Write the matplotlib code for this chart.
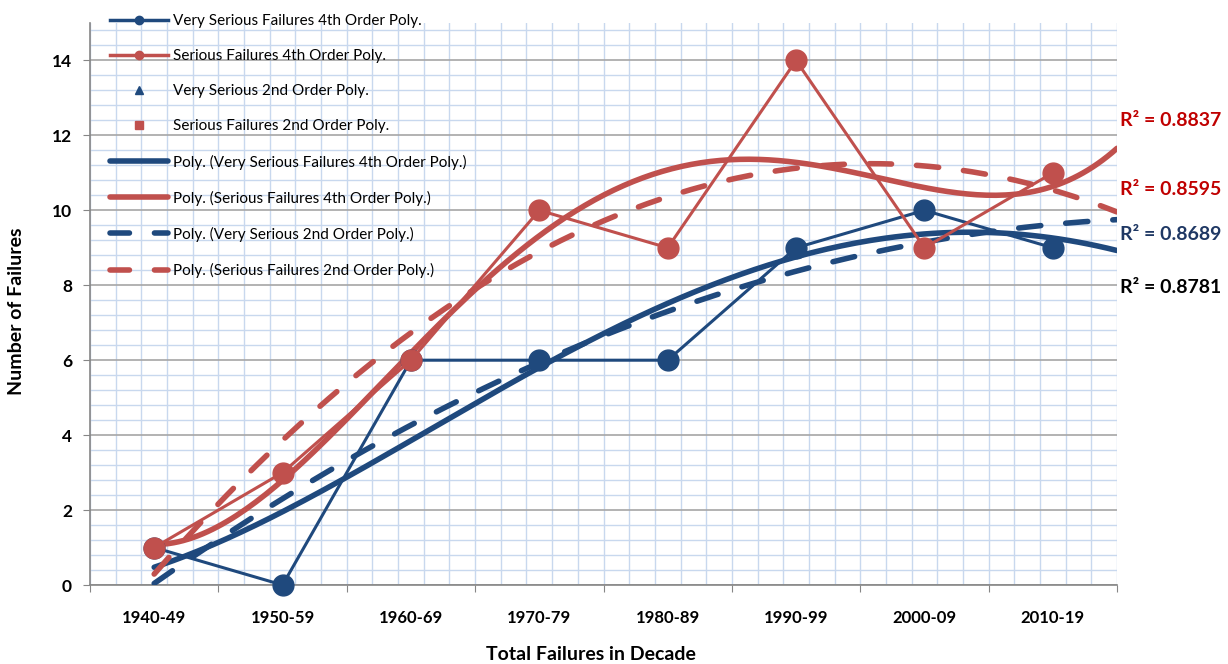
import numpy as np
import matplotlib.pyplot as plt
from matplotlib.lines import Line2D
from matplotlib.ticker import MultipleLocator, FixedLocator

OUTPUT_FIG = "out.png"

DECADES = ["1940-49", "1950-59", "1960-69", "1970-79",
           "1980-89", "1990-99", "2000-09", "2010-19"]
VERY_SERIOUS = [1, 0, 6, 6, 6, 9, 10, 9]
SERIOUS = [1, 3, 6, 10, 9, 14, 9, 11]
R2_LABELS = ["R² = 0.8837", "R² = 0.8595", "R² = 0.8689", "R² = 0.8781"]
R2_COLORS = ["#C00000", "#C00000", "#1F3864", "#000000"]
R2_YPOS = [12.4, 10.55, 9.35, 7.95]

BLUE = "#1F497D"
RED = "#C0504D"
GRID_BLUE = "#C8D8EE"
FONT = ["Lato", "DejaVu Sans"]


def trend(x, y, order, forward=0.5):
    coef = np.polyfit(x, y, order)
    xs = np.linspace(x[0], x[-1] + forward, 200)
    return xs, np.polyval(coef, xs)


def main():
    plt.rcParams["font.family"] = FONT
    x = np.arange(1, len(DECADES) + 1)

    fig = plt.figure(figsize=(12.28, 6.64), dpi=100)
    ax = fig.add_axes([90 / 1228, 79 / 664, 1027 / 1228, 562 / 664])

    ax.set_xlim(0.5, len(DECADES) + 0.5)
    ax.set_ylim(0, 15)

    # grids: light blue minor, grey major horizontal
    ax.xaxis.set_major_locator(FixedLocator(np.arange(0.5, len(DECADES) + 0.6, 1)))
    ax.xaxis.set_minor_locator(FixedLocator(np.arange(0.5, len(DECADES) + 0.55, 0.2)))
    ax.yaxis.set_major_locator(FixedLocator(np.arange(0, 15, 2)))
    ax.yaxis.set_minor_locator(MultipleLocator(0.4))
    ax.grid(which="minor", axis="both", color=GRID_BLUE, linewidth=1.0)
    ax.grid(which="major", axis="y", color="#A6A6A6", linewidth=1.2)
    ax.grid(which="major", axis="x", color=GRID_BLUE, linewidth=1.0)
    ax.set_axisbelow(True)

    ax.set_xticklabels([])
    for xi, lab in zip(x, DECADES):
        ax.text(xi, -0.68, lab, ha="center", va="top", fontsize=12,
                fontweight="bold", transform=ax.transData)
    ax.tick_params(axis="x", which="major", length=5, color="#868686", direction="out")
    ax.tick_params(axis="x", which="minor", length=0)
    ax.tick_params(axis="y", which="major", length=5, color="#868686",
                   labelsize=12.5, pad=8)
    ax.tick_params(axis="y", which="minor", length=0)
    for t in ax.get_yticklabels():
        t.set_fontweight("bold")

    for side in ["top", "right"]:
        ax.spines[side].set_visible(False)
    for side in ["left", "bottom"]:
        ax.spines[side].set_color("#868686")
        ax.spines[side].set_linewidth(1.2)

    # trendlines
    xs, ys = trend(x, VERY_SERIOUS, 4)
    ax.plot(xs, ys, color=BLUE, lw=4, solid_capstyle="round", zorder=3)
    xs, ys = trend(x, SERIOUS, 4)
    ax.plot(xs, ys, color=RED, lw=4, solid_capstyle="round", zorder=3)
    xs, ys = trend(x, VERY_SERIOUS, 2)
    ax.plot(xs, ys, color=BLUE, lw=4, ls=(0, (4, 4.5)), dash_capstyle="round", zorder=3)
    xs, ys = trend(x, SERIOUS, 2)
    ax.plot(xs, ys, color=RED, lw=4, ls=(0, (4, 4.5)), dash_capstyle="round", zorder=3)

    # data series
    ax.plot(x, VERY_SERIOUS, ls="none", marker="^", ms=7, color=BLUE, zorder=2)
    ax.plot(x, SERIOUS, ls="none", marker="s", ms=7, color=RED, zorder=2)
    ax.plot(x, VERY_SERIOUS, color=BLUE, lw=2.2, marker="o", ms=15, zorder=4, clip_on=False)
    ax.plot(x, SERIOUS, color=RED, lw=2.2, marker="o", ms=15, zorder=5, clip_on=False)

    fig.text(591 / 1228, 1 - 655 / 664, "Total Failures in Decade", ha="center",
             va="center", fontsize=14, fontweight="bold")
    fig.text(17 / 1228, 1 - 311 / 664, "Number of Failures", ha="center",
             va="center", rotation=90, fontsize=14, fontweight="bold")

    for lab, col, yv in zip(R2_LABELS, R2_COLORS, R2_YPOS):
        ax.text(1221 / 1228, ax.transData.transform((0, yv))[1] / 664, lab,
                transform=fig.transFigure, ha="right", va="center",
                fontsize=14, fontweight="bold", color=col)

    handles = [
        Line2D([], [], color=BLUE, lw=2.5, marker="o", ms=6),
        Line2D([], [], color=RED, lw=2.5, marker="o", ms=6),
        Line2D([], [], ls="none", color=BLUE, marker="^", ms=6),
        Line2D([], [], ls="none", color=RED, marker="s", ms=6),
        Line2D([], [], color=BLUE, lw=4, solid_capstyle="round"),
        Line2D([], [], color=RED, lw=4, solid_capstyle="round"),
        Line2D([], [], color=BLUE, lw=4, ls=(0, (3.5, 4.5)), dash_capstyle="round"),
        Line2D([], [], color=RED, lw=4, ls=(0, (3.5, 4.5)), dash_capstyle="round"),
    ]
    labels = [
        "Very Serious Failures 4th Order Poly.",
        "Serious Failures 4th Order Poly.",
        "Very Serious 2nd Order Poly.",
        "Serious Failures 2nd Order Poly.",
        "Poly. (Very Serious Failures 4th Order Poly.)",
        "Poly. (Serious Failures 4th Order Poly.)",
        "Poly. (Very Serious 2nd Order Poly.)",
        "Poly. (Serious Failures 2nd Order Poly.)",
    ]
    fig.legend(handles, labels, loc="upper left", bbox_to_anchor=(104 / 1228, 1 - 8 / 664),
               frameon=False, fontsize=11, handlelength=3.8, handletextpad=0.3,
               labelspacing=1.38, borderaxespad=0)

    fig.savefig(OUTPUT_FIG, dpi=100)


if __name__ == "__main__":
    main()
